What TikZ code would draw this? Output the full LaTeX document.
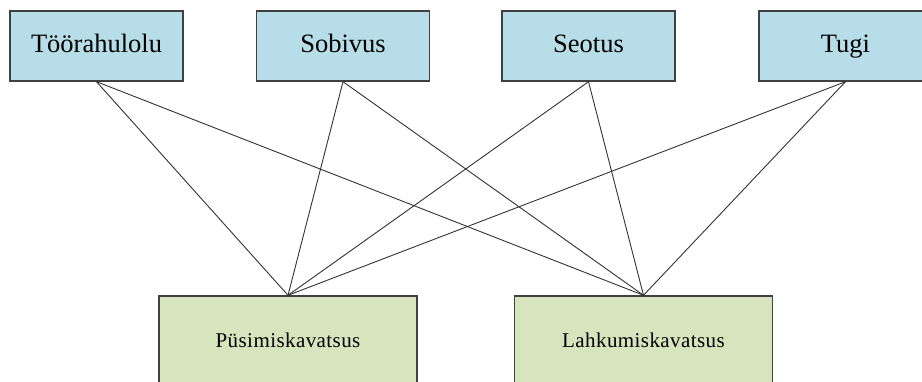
\documentclass[tikz,border=0pt]{standalone}
\usepackage{fontspec}
\setmainfont{Liberation Serif}
\usetikzlibrary{positioning}

\definecolor{factorfill}{RGB}{183,221,232}
\definecolor{intentfill}{RGB}{215,228,189}
\definecolor{boxline}{RGB}{64,64,64}
\definecolor{linkline}{RGB}{50,50,50}

\begin{document}
\begin{tikzpicture}[
		x=1pt, y=1pt,
		% Styles
		factor/.style={rectangle, draw=boxline, fill=factorfill, line width=1.4pt, minimum width=173pt, minimum height=70pt, inner sep=0pt, text height=17.5pt, text depth=4.5pt, font=\fontsize{26.5}{30}\selectfont},
		intent/.style={rectangle, draw=boxline, fill=intentfill, line width=1.4pt, minimum width=258pt, minimum height=92pt, inner sep=0pt, text height=13.5pt, text depth=2pt, font=\fontsize{21}{24}\selectfont\addfontfeature{LetterSpace=2}},
		% Links
		link/.style={draw=linkline, line width=0.9pt},
		]

		\useasboundingbox (0,0) rectangle (922,382);
		\clip (0,0) rectangle (922,382);

		% Top row
		\node[factor] (toorahulolu) at (96.5,336) {Töörahulolu};
		\node[factor] (sobivus) at (343,336) {Sobivus};
		\node[factor] (seotus) at (588.5,336) {Seotus};
		\node[factor] (tugi) at (845.5,336) {Tugi};

		% Bottom row
		\node[intent] (pusimine) at (288,40) {Püsimiskavatsus};
		\node[intent] (lahkumine) at (643.5,40) {Lahkumiskavatsus};

		% Connections
		\draw[link] (toorahulolu.south) -- (pusimine.north);
		\draw[link] (toorahulolu.south) -- (lahkumine.north);
		\draw[link] (sobivus.south) -- (pusimine.north);
		\draw[link] (sobivus.south) -- (lahkumine.north);
		\draw[link] (seotus.south) -- (pusimine.north);
		\draw[link] (seotus.south) -- (lahkumine.north);
		\draw[link] (tugi.south) -- (pusimine.north);
		\draw[link] (tugi.south) -- (lahkumine.north);

	\end{tikzpicture}
\end{document}
